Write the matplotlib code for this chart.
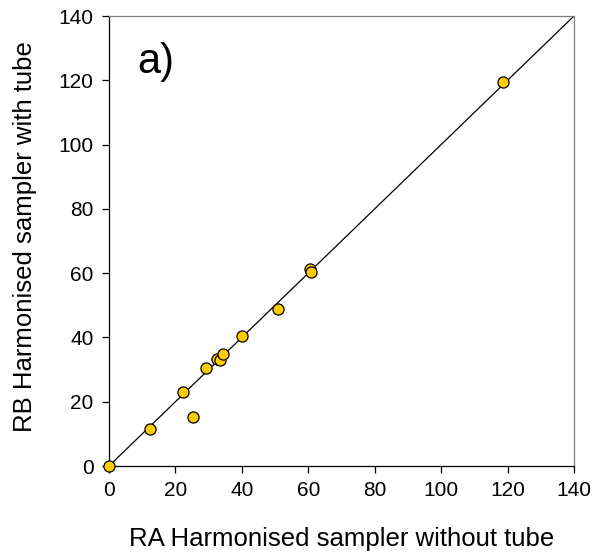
import matplotlib
matplotlib.use('Agg')
import matplotlib.pyplot as plt

plt.rcParams['font.family'] = ['Liberation Sans', 'DejaVu Sans']

ra_without_tube = [0, 12.4, 22.4, 25.2, 29.3, 32.5, 33.3, 34.3, 40.0, 50.8, 60.4, 60.7, 118.7]
rb_with_tube = [0, 11.4, 22.9, 15.3, 30.5, 33.4, 33.0, 34.7, 40.4, 48.9, 61.3, 60.4, 119.6]
ticks = [0, 20, 40, 60, 80, 100, 120, 140]

fig = plt.figure(figsize=(5.94, 5.52), dpi=100)
ax = fig.add_axes([109 / 594, 1 - 466 / 552, 465 / 594, 450 / 552])

ax.plot([0, 140], [0, 140], color='black', lw=0.9, zorder=2)
ax.plot(ra_without_tube, rb_with_tube, 'o', ms=8, mfc='#FFCC00', mec='black',
        mew=0.9, clip_on=False, zorder=3)

ax.set_xlim(0, 140)
ax.set_ylim(0, 140)
ax.set_xticks(ticks)
ax.set_yticks(ticks)
ax.tick_params(direction='out', length=5, width=0.9, labelsize=15, pad=6)

for side in ['top', 'right']:
    ax.spines[side].set_color('#808080')
for side in ['left', 'bottom']:
    ax.spines[side].set_color('black')
for s in ax.spines.values():
    s.set_linewidth(0.9)

ax.set_xlabel('RA Harmonised sampler without tube', fontsize=18.5, labelpad=19)
ax.set_ylabel('RB Harmonised sampler with tube', fontsize=18.5)
ax.yaxis.set_label_coords(-0.155, 0.51)
ax.text(0.06, 0.873, 'a)', transform=ax.transAxes, fontsize=30, va='baseline')

fig.savefig('out.png', dpi=100)
